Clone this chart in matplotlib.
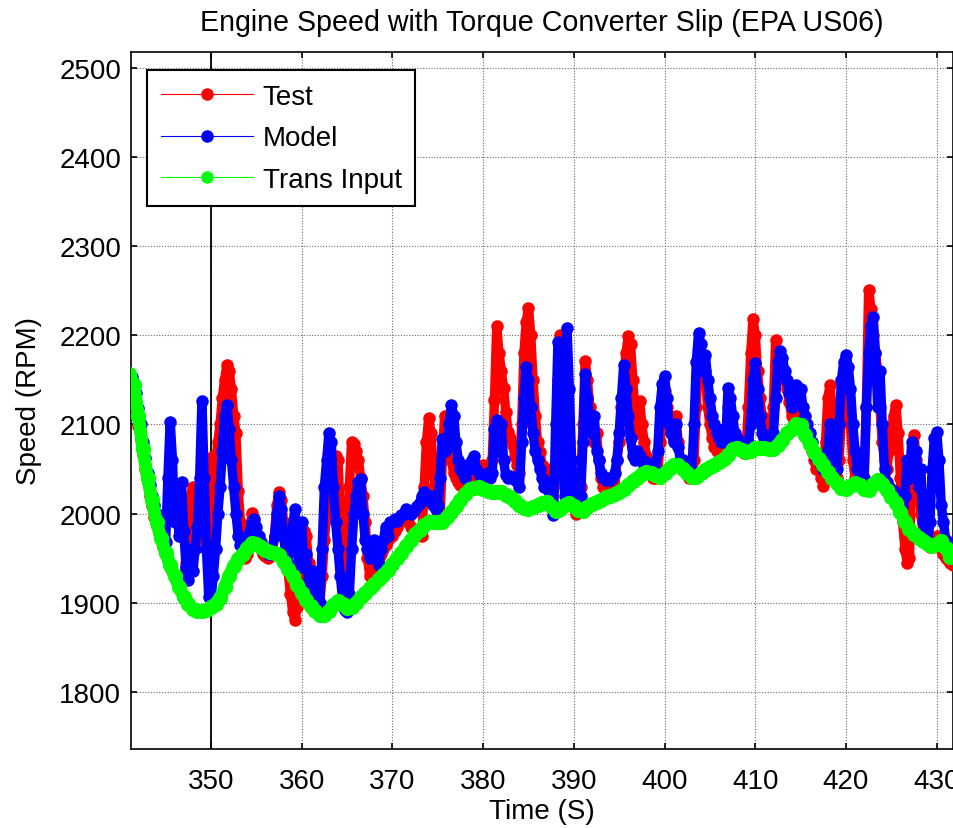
import numpy as np
import matplotlib
matplotlib.use('Agg')
import matplotlib.pyplot as plt

plt.rcParams['font.family'] = ['Liberation Sans', 'DejaVu Sans']

# ---------------- data ----------------
fast_start = 341.0      # s, first sample of Test / Model
fast_step = 0.25        # s
test_rpm = [
    2150, 2142, 2130, 2115,  2098, 2082, 2066, 2050,  2035, 2020, 2008, 1996,  1986, 1978, 1970, 1962,  # 341-344
    1955, 1948, 1940, 1935,  1930, 1925, 1922, 1930,  1930, 1945, 1980, 2020,  2030, 2000, 1970, 1990,  # 345-348
    2010, 2000, 1975, 1990,  2030, 2065, 2050, 2080,  2100, 2130, 2150, 2167,  2160, 2140, 2110, 2090,  # 349-352
    2025, 1990, 1960, 1950,  1955, 1975, 2001, 1990,  1975, 1965, 1960, 1955,  1952, 1950, 1952, 1955,  # 353-356
    1975, 2010, 2024, 2015,  1990, 1960, 1935, 1910,  1890, 1880, 1895, 1920,  1960, 1980, 1975, 1945,  # 357-360
    1925, 1915, 1908, 1900,  1900, 1930, 1970, 2000,  2020, 2040, 2060, 2065,  2060, 2000, 1950, 1930,  # 361-364
    1950, 2030, 2080, 2078,  2070, 2060, 2040, 2020,  1990, 1950, 1930, 1935,  1940, 1945, 1950, 1955,  # 365-368
    1960, 1965, 1970, 1975,  1975, 1980, 1985, 1990,  1992, 1995, 1993, 1990,  1985, 1982, 1980, 1978,  # 369-372
    1976, 1975, 2030, 2080,  2107, 2090, 2050, 2020,  2000, 1995, 2060, 2110,  2095, 2080, 2060, 2045,  # 373-376
    2040, 2035, 2032, 2030,  2030, 2035, 2040, 2045,  2050, 2045, 2040, 2052,  2055, 2050, 2045, 2050,  # 377-380
    2060, 2127, 2210, 2180,  2160, 2141, 2114, 2092,  2085, 2077, 2065, 2054,  2045, 2100, 2180, 2215,  # 381-384
    2231, 2200, 2150, 2110,  2080, 2069, 2055, 2045,  2040, 2050, 2030, 2010,  2050, 2150, 2200, 2100,  # 385-388
    2030, 2120, 2080, 2040,  2010, 2000, 2005, 2030,  2100, 2171, 2150, 2120,  2100, 2080, 2090, 2060,  # 389-392
    2040, 2030, 2025, 2020,  2022, 2025, 2028, 2060,  2080, 2120, 2150, 2180,  2199, 2190, 2150, 2110,  # 393-396
    2090, 2126, 2100, 2080,  2065, 2050, 2045, 2040,  2040, 2045, 2080, 2120,  2137, 2120, 2100, 2090,  # 397-400
    2085, 2110, 2080, 2060,  2050, 2048, 2045, 2040,  2040, 2060, 2120, 2180,  2170, 2150, 2160, 2120,  # 401-404
    2100, 2085, 2075, 2070,  2068, 2070, 2080, 2075,  2120, 2110, 2090, 2080,  2075, 2072, 2070, 2068,  # 405-408
    2075, 2120, 2180, 2218,  2200, 2160, 2130, 2110,  2100, 2090, 2080, 2085,  2120, 2195, 2180, 2170,  # 409-412
    2160, 2150, 2140, 2125,  2110, 2105, 2110, 2100,  2100, 2095, 2090, 2085,  2080, 2070, 2060, 2050,  # 413-416
    2050, 2040, 2031, 2080,  2130, 2144, 2110, 2060,  2040, 2060, 2110, 2150,  2160, 2140, 2100, 2060,  # 417-420
    2040, 2038, 2035, 2034,  2040, 2120, 2251, 2230,  2200, 2180, 2160, 2120,  2080, 2060, 2050, 2070,  # 421-424
    2090, 2110, 2122, 2090,  2040, 1990, 1960, 1945,  1950, 2050, 2088, 2060,  2040, 2000, 1980, 1970,  # 425-428
    1965, 1962, 1965, 1970,  1975, 1968, 1960, 1955,  1950, 1948, 1945, 1942,                          # 429-431
]
model_rpm = [
    2158, 2153, 2146, 2135,  2118, 2100, 2080, 2062,  2046, 2032, 2020, 2010,  2000, 1990, 1982, 1975,  # 341-344
    1968, 2040, 2103, 2060,  1990, 2020, 1975, 2035,  1980, 1940, 1925, 1960,  1935, 1960, 1985, 2040,  # 345-348
    2126, 2040, 1960, 1906,  1905, 1930, 1960, 2000,  2030, 2070, 2110, 2122,  2095, 2060, 2030, 2000,  # 349-352
    1975, 1965, 1960, 1968,  1972, 1980, 1990, 1994,  1985, 1975, 1968, 1962,  1958, 1955, 1955, 1960,  # 353-356
    1975, 2000, 2020, 2005,  1975, 1955, 1945, 1960,  1985, 2005, 1970, 1940,  1990, 1940, 1955, 1925,  # 357-360
    1912, 1935, 1905, 1900,  1900, 1960, 2030, 2060,  2090, 2080, 2030, 1990,  1960, 1930, 1905, 1892,  # 361-364
    1889, 1910, 1960, 2000,  2020, 2035, 2039, 2000,  1970, 1960, 1950, 1960,  1970, 1950, 1942, 1960,  # 365-368
    1970, 1985, 1975, 1990,  1990, 1994, 1992, 1995,  1998, 2000, 2005, 2003,  2000, 2002, 2005, 2008,  # 369-372
    2012, 2020, 2024, 2018,  2015, 2020, 2010, 2005,  2010, 2040, 2084, 2070,  2075, 2100, 2122, 2110,  # 373-376
    2080, 2060, 2050, 2045,  2040, 2055, 2050, 2060,  2065, 2050, 2045, 2040,  2042, 2040, 2045, 2040,  # 377-380
    2045, 2095, 2105, 2070,  2100, 2060, 2043, 2040,  2042, 2040, 2038, 2036,  2030, 2080, 2130, 2165,  # 381-384
    2150, 2120, 2090, 2070,  2060, 2050, 2040, 2030,  2035, 2025, 2010, 1998,  2100, 2193, 2140, 2060,  # 385-388
    2020, 2208, 2140, 2060,  2025, 2015, 2010, 2020,  2080, 2157, 2130, 2105,  2090, 2110, 2070, 2060,  # 389-392
    2045, 2040, 2038, 2040,  2038, 2040, 2045, 2060,  2090, 2130, 2167, 2140,  2110, 2085, 2065, 2060,  # 393-396
    2070, 2065, 2060, 2055,  2058, 2052, 2050, 2048,  2050, 2070, 2120, 2145,  2154, 2130, 2100, 2090,  # 397-400
    2080, 2100, 2075, 2060,  2060, 2055, 2050, 2050,  2045, 2100, 2170, 2203,  2190, 2160, 2178, 2150,  # 401-404
    2130, 2110, 2100, 2090,  2085, 2080, 2095, 2080,  2141, 2130, 2110, 2090,  2085, 2080, 2078, 2075,  # 405-408
    2078, 2080, 2100, 2150,  2169, 2140, 2110, 2090,  2085, 2080, 2082, 2085,  2090, 2130, 2170, 2182,  # 409-412
    2175, 2160, 2150, 2135,  2120, 2130, 2144, 2140,  2140, 2120, 2110, 2100,  2090, 2080, 2070, 2062,  # 413-416
    2060, 2055, 2050, 2048,  2070, 2100, 2090, 2060,  2050, 2100, 2150, 2170,  2178, 2165, 2140, 2100,  # 417-420
    2070, 2050, 2040, 2035,  2040, 2120, 2180, 2210,  2221, 2180, 2120, 2160,  2100, 2050, 2035, 2030,  # 421-424
    2028, 2025, 2020, 2012,  2005, 1995, 2020, 2060,  2040, 2080, 2050, 2070,  2030, 2050, 1990, 1975,  # 425-428
    1965, 1990, 2050, 2085,  2092, 2060, 2010, 1990,  1970, 1965, 1955, 1950,                          # 429-431
]
slow_start = 341.0      # s, first sample of Trans Input
slow_step = 0.5         # s
trans_rpm = [
    2157, 2144, 2110, 2072, 2040, 2015, 1990, 1972, 1956, 1942,   # 341.0-345.5
    1930, 1917, 1906, 1898, 1893, 1891, 1891, 1892, 1895, 1899,   # 346.0-350.5
    1905, 1917, 1930, 1941, 1949, 1955, 1961, 1967, 1966, 1962,   # 351.0-355.5
    1959, 1957, 1956, 1953, 1946, 1938, 1930, 1920, 1911, 1903,   # 356.0-360.5
    1896, 1891, 1886, 1886, 1891, 1897, 1902, 1899, 1894, 1895,   # 361.0-365.5
    1900, 1906, 1911, 1916, 1921, 1926, 1931, 1937, 1943, 1950,   # 366.0-370.5
    1956, 1963, 1970, 1977, 1982, 1987, 1990, 1990, 1990, 1991,   # 371.0-375.5
    1996, 2002, 2008, 2015, 2022, 2027, 2029, 2030, 2028, 2025,   # 376.0-380.5
    2024, 2024, 2024, 2021, 2018, 2014, 2010, 2006, 2005, 2007,   # 381.0-385.5
    2009, 2012, 2013, 2008, 2003, 2005, 2010, 2012, 2008, 2004,   # 386.0-390.5
    2003, 2007, 2011, 2013, 2015, 2018, 2020, 2022, 2024, 2028,   # 391.0-395.5
    2032, 2036, 2040, 2044, 2047, 2046, 2043, 2041, 2045, 2050,   # 396.0-400.5
    2055, 2054, 2050, 2046, 2041, 2041, 2045, 2049, 2052, 2055,   # 401.0-405.5
    2058, 2061, 2066, 2072, 2073, 2071, 2069, 2070, 2073, 2074,   # 406.0-410.5
    2073, 2072, 2072, 2077, 2083, 2090, 2095, 2101, 2099, 2088,   # 411.0-415.5
    2078, 2069, 2061, 2054, 2047, 2040, 2034, 2029, 2028, 2031,   # 416.0-420.5
    2034, 2032, 2027, 2026, 2033, 2038, 2033, 2026, 2019, 2012,   # 421.0-425.5
    2002, 1991, 1983, 1977, 1972, 1969, 1966, 1963, 1966, 1969,   # 426.0-430.5
    1961, 1951,                                                   # 431.0-431.5
]
series_labels = ['Test', 'Model', 'Trans Input']
series_colors = ['#ff0000', '#0000ff', '#00ff00']
x_ticks = [350, 360, 370, 380, 390, 400, 410, 420, 430]
y_ticks = [1800, 1900, 2000, 2100, 2200, 2300, 2400, 2500]
title_text = 'Engine Speed with Torque Converter Slip (EPA US06)'
x_label = 'Time (S)'
y_label = 'Speed (RPM)'

# ---------------- figure ----------------
fig = plt.figure(figsize=(9.54, 8.29), dpi=100)
ax = fig.add_axes([131 / 954, 1 - 750 / 829, 822 / 954, 697 / 829])

t_test = fast_start + fast_step * np.arange(len(test_rpm))
t_model = fast_start + fast_step * np.arange(len(model_rpm))
t_trans = slow_start + slow_step * np.arange(len(trans_rpm))

ax.axvline(350, color='black', lw=1.3, zorder=1.5)

series = [(t_test, test_rpm, 8.0, 6.8, 3),
          (t_model, model_rpm, 8.0, 6.8, 4),
          (t_trans, trans_rpm, 10.0, 9.2, 5)]
for (tt, vv, ms, band, z), lab, col in zip(series, series_labels, series_colors):
    # dense sample cloud: a round-capped band under the sample dots
    ax.plot(tt, vv, '-', color=col, lw=band, solid_joinstyle='round',
            solid_capstyle='round', zorder=z)
    ax.plot(tt, vv, '-o', color=col, lw=0.8, ms=ms, mec=col, mfc=col,
            label=lab, zorder=z)

ax.set_xlim(341.18, 431.8)
ax.set_ylim(1735.7, 2518)
ax.set_xticks(x_ticks)
ax.set_yticks(y_ticks)
ax.grid(True, color='#6a6a6a', linestyle=(0, (1, 1.5)), linewidth=0.8)
ax.set_axisbelow(True)

ax.tick_params(axis='both', which='major', direction='in', length=4, width=1.2,
               labelsize=20, top=True, right=True, colors='black')
ax.tick_params(axis='x', pad=14)
ax.tick_params(axis='y', pad=7)
for s in ax.spines.values():
    s.set_linewidth(1.2)
    s.set_color('black')

ax.set_title(title_text, fontsize=20.6, pad=16)
ax.set_xlabel(x_label, fontsize=20)
ax.set_ylabel(y_label, fontsize=20)
ax.xaxis.set_label_coords(0.5, -0.071)
ax.yaxis.set_label_coords(-0.108, 0.5)

leg = ax.legend(loc='upper left', bbox_to_anchor=(0.0195, 0.974), borderaxespad=0,
                fontsize=20, handlelength=3.3, handletextpad=0.36, labelspacing=0.55,
                borderpad=0.5, fancybox=False, framealpha=1, edgecolor='black')
leg.get_frame().set_linewidth(1.5)
for h in leg.legend_handles:
    h.set_markersize(8)

fig.savefig('out.png', dpi=100)
